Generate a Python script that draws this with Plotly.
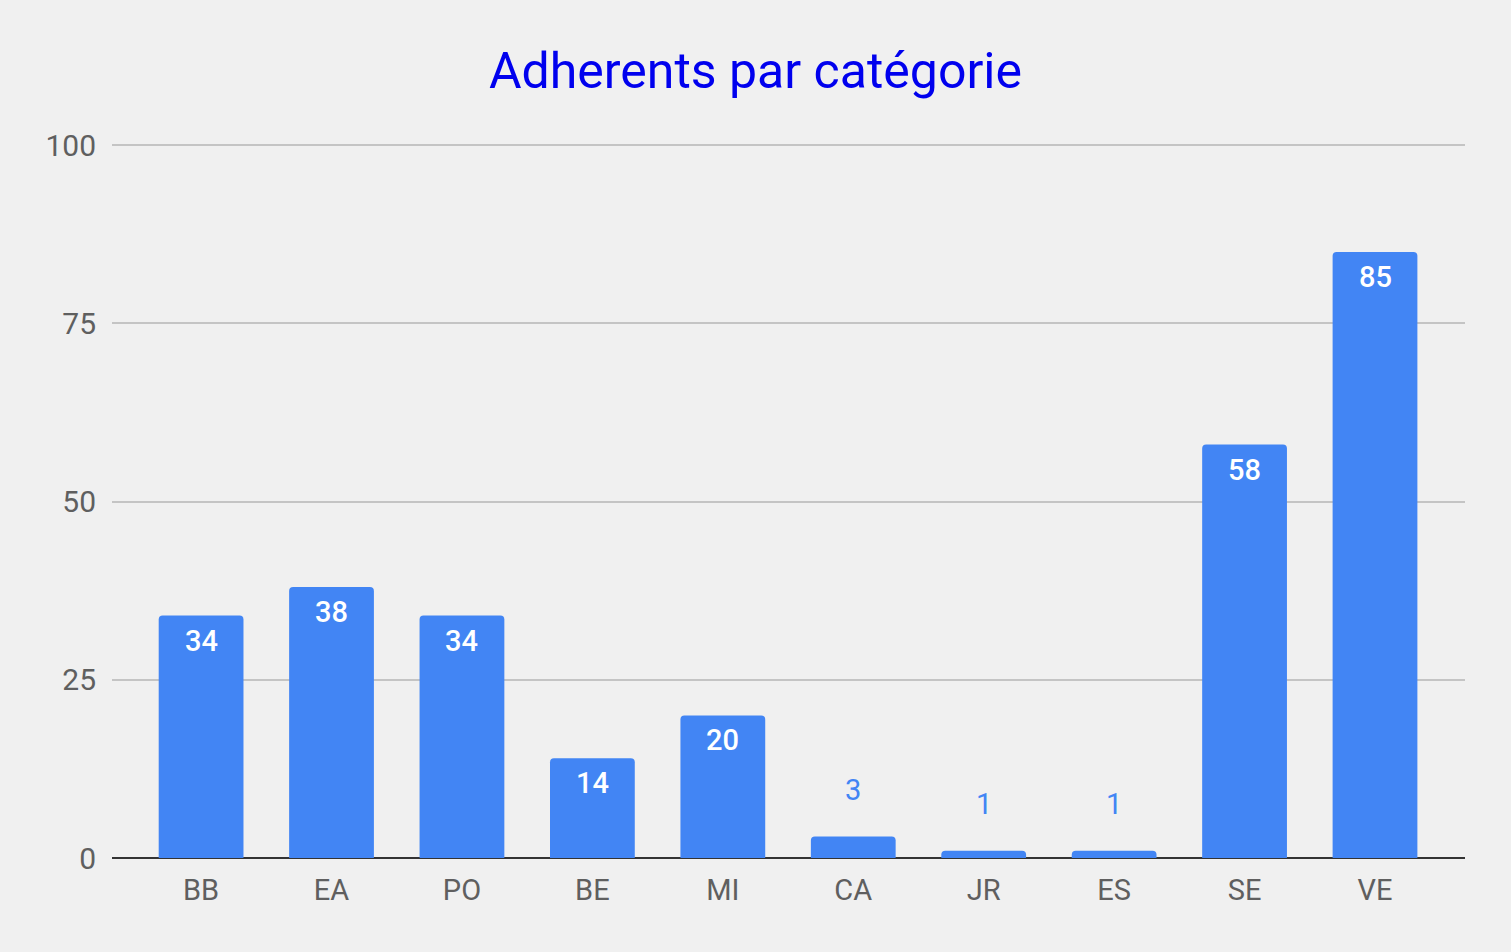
import plotly.graph_objects as go

categories = ["BB", "EA", "PO", "BE", "MI", "CA", "JR", "ES", "SE", "VE"]
values = [34, 38, 34, 14, 20, 3, 1, 1, 58, 85]
y_ticks = [0, 25, 50, 75, 100]

BAR = "#4285f4"
BG = "#f0f0f0"

fig = go.Figure()
fig.add_trace(go.Bar(
    x=categories, y=values, marker=dict(color=BAR, line=dict(width=0)),
    width=0.65, hoverinfo="x+y",
))

annotations = []
for c, v in zip(categories, values):
    if v >= 10:
        annotations.append(dict(x=c, y=v, text=str(v), showarrow=False,
                                yanchor="middle", yshift=-25,
                                font=dict(family="Roboto", size=29, color="white", weight=500)))
    else:
        annotations.append(dict(x=c, y=v, text=str(v), showarrow=False,
                                yanchor="middle", yshift=47,
                                font=dict(family="Roboto", size=29, color=BAR)))

fig.update_layout(
    width=1511, height=952,
    paper_bgcolor=BG, plot_bgcolor=BG,
    margin=dict(l=112, r=46, t=144, b=94, autoexpand=False),
    barcornerradius=4,
    showlegend=False,
    title=dict(text="Adherents par catégorie", x=0.5, xanchor="center",
               y=1 - 70 / 952, yanchor="middle", yref="container",
               font=dict(family="Roboto", size=50, color="#0000ee")),
    xaxis=dict(range=[-0.683, 9.69], showgrid=False, showline=False,
               ticks="", tickfont=dict(family="Roboto", size=29, color="#5f5f5f"),
               ticklabelstandoff=12, fixedrange=True),
    yaxis=dict(range=[0, 100.15], tickvals=y_ticks, showgrid=True,
               gridcolor="#c4c4c4", gridwidth=2, zeroline=True,
               zerolinecolor="#333333", zerolinewidth=2, showline=False,
               ticks="", tickfont=dict(family="Roboto", size=30, color="#5f5f5f"),
               ticklabelstandoff=15, fixedrange=True),
    annotations=annotations,
    font=dict(family="Roboto"),
)

fig.write_html("out.html",
               config={"displayModeBar": False},
               post_script="document.body.style.margin='0';document.body.style.overflow='hidden';")
